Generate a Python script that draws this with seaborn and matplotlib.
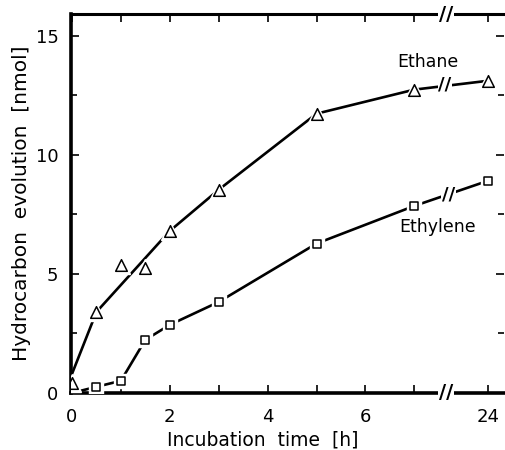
import matplotlib
matplotlib.use("Agg")
import matplotlib.pyplot as plt
import seaborn as sns
import pandas as pd
import numpy as np

# ---- data ----
time_h = [0, 0.5, 1, 1.5, 2, 3, 5, 7, 24]
ethane = [0.42, 3.4, 5.38, 5.25, 6.8, 8.53, 11.72, 12.73, 13.1]
ethane_curve_time = [0, 0.5, 2, 3, 5, 7, 24]
ethane_curve = [0.8, 3.4, 6.8, 8.53, 11.72, 12.73, 13.1]
ethylene_time = [0.5, 1, 1.5, 2, 3, 5, 7, 24]
ethylene = [0.26, 0.51, 2.23, 2.86, 3.82, 6.27, 7.85, 8.9]
ethylene_curve_time = [0, 0.5, 1, 1.5, 2, 3, 5, 7, 24]
ethylene_curve = [0.0, 0.26, 0.51, 2.23, 2.86, 3.82, 6.27, 7.85, 8.9]
x_tick_hours = [0, 1, 2, 3, 4, 5, 6, 7, 24]
x_tick_labels = ["0", "", "2", "", "4", "", "6", "", "24"]
y_ticks = [0, 5, 10, 15]

# broken axis: 24 h is drawn at position 8.5
BREAK_AT = 7.65
def pos(t):
    return [8.5 if v >= 24 else v for v in t]

sns.set_style("ticks")
plt.rcParams['font.family'] = ['DejaVu Sans']
for k in ["text.color", "axes.labelcolor", "xtick.color", "ytick.color", "axes.edgecolor"]:
    plt.rcParams[k] = "black"

fig = plt.figure(figsize=(5.05, 4.5), dpi=100)
ax = fig.add_axes([0.1406, 0.1267, 0.858, 0.842])

c_eta = pd.DataFrame({"x": pos(ethane_curve_time), "y": ethane_curve})
c_ety = pd.DataFrame({"x": pos(ethylene_curve_time), "y": ethylene_curve})
m_eta = pd.DataFrame({"x": pos(time_h), "y": ethane})
m_ety = pd.DataFrame({"x": pos(ethylene_time), "y": ethylene})

sns.lineplot(data=c_eta, x="x", y="y", ax=ax, color="black", lw=1.9, sort=False)
sns.lineplot(data=c_ety, x="x", y="y", ax=ax, color="black", lw=1.9, sort=False)

# white halos to create gaps around markers
ax.plot(m_eta["x"], m_eta["y"], ls="none", marker="^", ms=13, mfc="white", mec="white", zorder=3)
ax.plot(m_ety["x"], m_ety["y"], ls="none", marker="s", ms=10, mfc="white", mec="white", zorder=3)
sns.scatterplot(data=m_eta, x="x", y="y", ax=ax, marker="^", s=70, facecolor="white",
                edgecolor="black", linewidth=1.1, zorder=4)
sns.scatterplot(data=m_ety, x="x", y="y", ax=ax, marker="s", s=38, facecolor="white",
                edgecolor="black", linewidth=1.1, zorder=4)

ax.set_xlim(-0.02, 8.84)
ax.set_ylim(0, 15.9)
ax.set_xticks(pos(x_tick_hours))
ax.set_xticklabels(x_tick_labels)
ax.set_yticks(y_ticks)
ax.set_yticks([2.5, 7.5, 12.5], minor=True)

ax.tick_params(axis="both", which="both", direction="in", top=True, right=True,
               labelsize=13, width=1.2, length=6)
ax.tick_params(axis="x", which="both", pad=11)
ax.tick_params(axis="y", which="both", pad=9)
ax.tick_params(axis="y", which="minor", length=4)

for s in ["left", "bottom"]:
    ax.spines[s].set_linewidth(2.6)
ax.spines["top"].set_linewidth(2.2)
ax.spines["right"].set_visible(False)

ax.set_xlabel("Incubation  time  [h]", fontsize=13.5)
ax.set_ylabel("Hydrocarbon  evolution  [nmol]", fontsize=14.5)
ax.xaxis.set_label_coords(0.442, -0.1)
ax.yaxis.set_label_coords(-0.093, 0.5)

ax.text(7.27, 13.87, "Ethane", fontsize=12.5, ha="center", va="center")
ax.text(7.47, 6.97, "Ethylene", fontsize=12.5, ha="center", va="center")

# break marks
bb = dict(facecolor="white", edgecolor="none", pad=0.5)
for y in [0, 15.9]:
    ax.text(BREAK_AT, y, "//", fontsize=14, fontweight="bold", ha="center", va="center",
            bbox=bb, clip_on=False, zorder=5)
ax.text(7.63, 12.95, "//", fontsize=13, fontweight="bold", ha="center", va="center", bbox=bb, zorder=5)
ax.text(7.7, 8.35, "//", fontsize=13, fontweight="bold", ha="center", va="center", bbox=bb, zorder=5)

fig.savefig("out.png", dpi=100)
